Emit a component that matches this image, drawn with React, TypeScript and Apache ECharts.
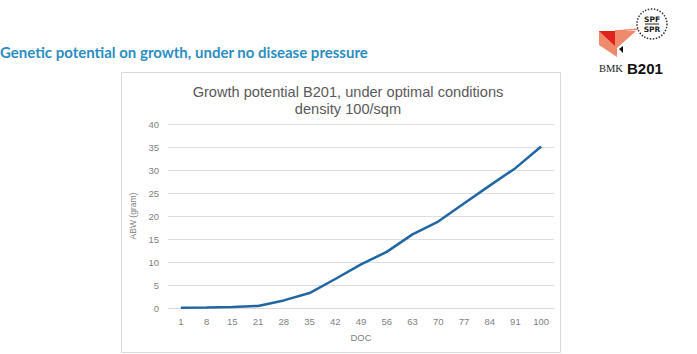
import React, { useEffect, useRef } from "react";
import * as echarts from "echarts";

const docLabels = ["1", "8", "15", "21", "28", "35", "42", "49", "56", "63", "70", "77", "84", "91", "100"];
const abwValues = [0.05, 0.1, 0.2, 0.45, 1.65, 3.25, 6.3, 9.5, 12.2, 16.0, 18.8, 22.7, 26.6, 30.4, 35.1];
const yTicks = { min: 0, max: 40, interval: 5 };
const chartTitle = "Growth potential B201, under optimal conditions\ndensity 100/sqm";
const headerText = "Genetic potential on growth, under no disease pressure";

export default function App() {
  const ref = useRef<HTMLDivElement>(null);
  useEffect(() => {
    if (!ref.current) return;
    const chart = echarts.init(ref.current, undefined, { renderer: "svg" });
    chart.setOption({
      animation: false,
      backgroundColor: "#ffffff",
      title: {
        text: chartTitle,
        left: 343,
        top: 78,
        textAlign: "center",
        textStyle: {
          fontFamily: "Liberation Sans, Arial, sans-serif",
          fontSize: 14.6,
          fontWeight: "normal",
          color: "#595959",
          lineHeight: 17,
        },
      },
      grid: { left: 168, right: 143, top: 124, bottom: 46 },
      xAxis: {
        type: "category",
        data: docLabels,
        boundaryGap: true,
        name: "DOC",
        nameLocation: "middle",
        nameGap: 24,
        nameTextStyle: { fontFamily: "Liberation Sans, Arial, sans-serif", fontSize: 9.5, color: "#7f7f7f" },
        axisLine: { show: true, lineStyle: { color: "#d9d9d9" } },
        axisTick: { show: false },
        axisLabel: { fontFamily: "Liberation Sans, Arial, sans-serif", fontSize: 9.5, color: "#7f7f7f", margin: 8 },
      },
      yAxis: {
        type: "value",
        min: yTicks.min,
        max: yTicks.max,
        interval: yTicks.interval,
        name: "ABW (gram)",
        nameLocation: "middle",
        nameGap: 23,
        nameTextStyle: { fontFamily: "Liberation Sans, Arial, sans-serif", fontSize: 8.5, color: "#7f7f7f" },
        axisLine: { show: false },
        axisTick: { show: false },
        axisLabel: { fontFamily: "Liberation Sans, Arial, sans-serif", fontSize: 9.5, color: "#7f7f7f", margin: 9 },
        splitLine: { lineStyle: { color: "#dedede", width: 1 } },
      },
      series: [
        {
          type: "line",
          data: abwValues,
          symbol: "none",
          lineStyle: { color: "#2166a4", width: 2.5 },
        },
      ],
      graphic: [
        {
          type: "rect",
          shape: { x: 121.5, y: 72.5, width: 439, height: 280 },
          style: { fill: "none", stroke: "#d9d9d9", lineWidth: 1 },
          z: -10,
        },
        {
          type: "text",
          x: 0,
          y: 52,
          style: {
            text: headerText,
            fontFamily: "Lato, sans-serif",
            fontWeight: "bold",
            fontSize: 15,
            fill: "#2b8ec3",
            textVerticalAlign: "middle",
          },
        },
        {
          type: "polygon",
          shape: { points: [[599, 31], [636, 31], [617, 48], [617, 57], [599, 45]] },
          style: { fill: "#f08a6c" },
        },
        {
          type: "polygon",
          shape: { points: [[599, 31], [615, 31], [615, 46]] },
          style: { fill: "#e0221f" },
        },
        {
          type: "polygon",
          shape: { points: [[619, 49], [623, 46], [623, 53]] },
          style: { fill: "#111111" },
        },
        {
          type: "line",
          shape: { x1: 615, y1: 31, x2: 640, y2: 29 },
          style: { stroke: "#f08a6c", lineWidth: 1.5 },
        },
        {
          type: "circle",
          shape: { cx: 652, cy: 24, r: 15 },
          style: { fill: "#ffffff", stroke: "#333333", lineWidth: 1.5, lineDash: [1.5, 1.5] },
        },
        {
          type: "text",
          x: 652,
          y: 19,
          style: { text: "SPF", fontFamily: "DejaVu Sans, sans-serif", fontWeight: "bold", fontSize: 7.5, fill: "#222", textAlign: "center", textVerticalAlign: "middle" },
        },
        {
          type: "line",
          shape: { x1: 645, y1: 24, x2: 659, y2: 24 },
          style: { stroke: "#222", lineWidth: 1 },
        },
        {
          type: "text",
          x: 652,
          y: 29,
          style: { text: "SPR", fontFamily: "DejaVu Sans, sans-serif", fontWeight: "bold", fontSize: 7.5, fill: "#222", textAlign: "center", textVerticalAlign: "middle" },
        },
        {
          type: "text",
          x: 599,
          y: 68,
          style: { text: "BMK", fontFamily: "Liberation Serif, serif", fontSize: 10.5, fill: "#222", textVerticalAlign: "middle" },
        },
        {
          type: "text",
          x: 627,
          y: 68,
          style: { text: "B201", fontFamily: "Liberation Sans, sans-serif", fontWeight: "bold", fontSize: 15, fill: "#111", textVerticalAlign: "middle" },
        },
      ],
    });
    return () => chart.dispose();
  }, []);
  return (
    <div
      ref={ref}
      style={{ position: "fixed", left: 0, top: 0, width: 697, height: 354 }}
    />
  );
}
